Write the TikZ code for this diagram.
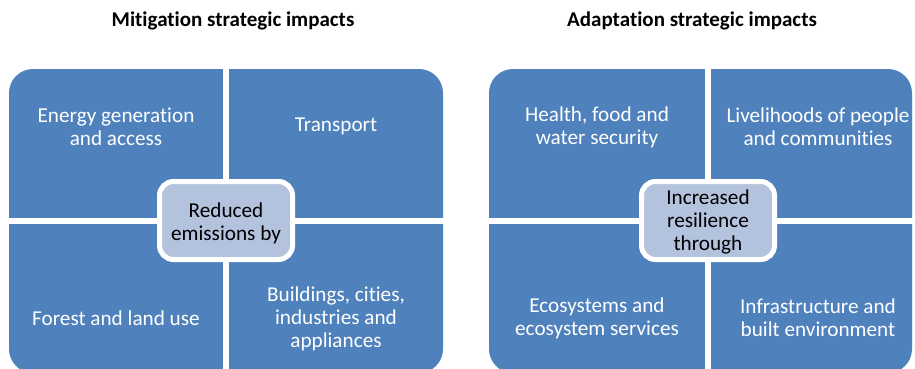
\documentclass[tikz,border=0pt]{standalone}
\usepackage{fontspec}
\setmainfont[Ligatures={NoCommon}]{Carlito}
\definecolor{qblue}{HTML}{4F81BD}
\definecolor{cblue}{HTML}{B3C2DD}
\begin{document}
\begin{tikzpicture}[x=1pt,y=-1pt,
  panel/.style={fill=qblue,rounded corners=24},
  gapline/.style={fill=white},
  qtext/.style={text=white,align=center,inner sep=0pt,font=\fontsize{21.2}{23}\selectfont},
  cbox/.style={draw=white,line width=5pt,fill=cblue,rounded corners=14,minimum width=133pt,minimum height=78pt,inner sep=0pt},
  ctext/.style={text=black,align=center,inner sep=0pt,font=\fontsize{21.2}{23}\selectfont},
  ttl/.style={inner sep=0pt,font=\bfseries\fontsize{21}{24}\selectfont}]
\useasboundingbox (0,0) rectangle (915,369);
\clip (0,0) rectangle (915,369);
% titles
\node[ttl] (t1) at (233,21) {Mitigation strategic impacts};
\node[ttl] (t2) at (692,21) {Adaptation strategic impacts};
% left panel
\fill[panel] (9,69) rectangle (443,373);
\fill[gapline] (223,60) rectangle (229,380);
\fill[gapline] (0,218) rectangle (460,224);
% right panel
\fill[panel] (489,69) rectangle (912,373);
\fill[gapline] (705,60) rectangle (711,380);
\fill[gapline] (470,218) rectangle (915,224);
% left texts
\node[qtext] (m1) at (116,127) {Energy generation\\and access};
\node[qtext] (m2) at (336,126) {Transport};
\node[qtext] (m3) at (116,318) {Forest and land use};
\node[qtext] (m4) at (336,319) {Buildings, cities,\\industries and\\appliances};
\node[cbox] (mc) at (226,220.5) {};
\node[ctext] (mct) at (226,223) {Reduced\\emissions by};
% right texts
\node[qtext] (a1) at (597,127) {Health, food and\\water security};
\node[qtext] (a2) at (818,127) {Livelihoods of people\\and communities};
\node[qtext] (a3) at (597,318) {Ecosystems and\\ecosystem services};
\node[qtext] (a4) at (818,318) {Infrastructure and\\built environment};
\node[cbox] (ac) at (708,220.5) {};
\node[ctext] (act) at (708,222) {Increased\\resilience\\through};
\end{tikzpicture}
\end{document}
